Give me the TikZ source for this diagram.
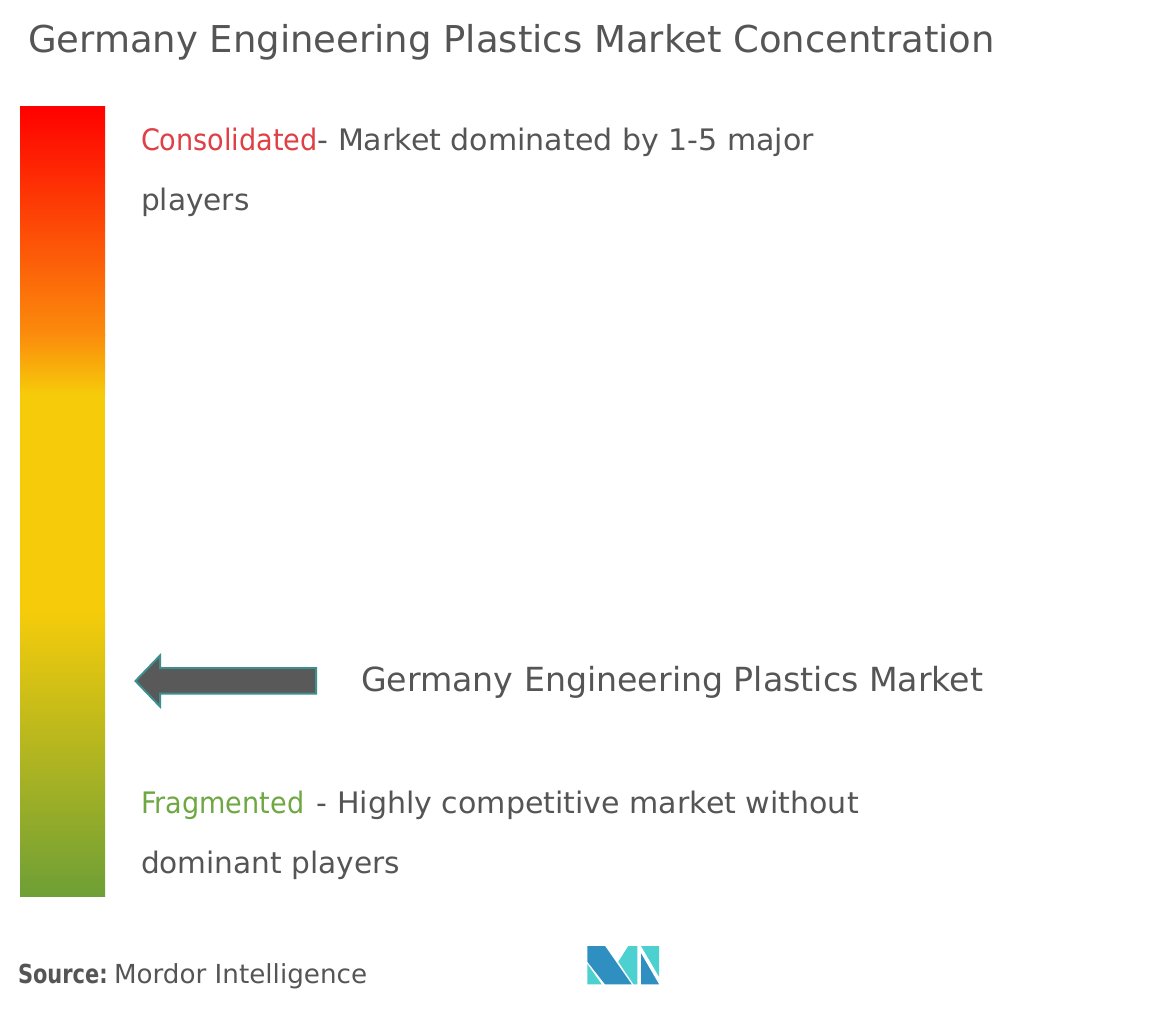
\documentclass[tikz,border=0pt]{standalone}
\usepackage{fontspec}
\setmainfont{DejaVu Sans}
\newfontfamily\txtfont{DejaVu Sans}
\newfontfamily\srcfont[FakeStretch=0.8]{DejaVu Sans}
\newfontfamily\keyfont[FakeStretch=0.915]{DejaVu Sans}
\newfontfamily\restfont[FakeStretch=1.015]{DejaVu Sans}
\definecolor{txtgray}{HTML}{555555}
\definecolor{consred}{HTML}{DE4045}
\definecolor{fraggreen}{HTML}{6FA843}
\definecolor{barred}{HTML}{FF0000}
\definecolor{barorange}{HTML}{FB8C0C}
\definecolor{baryellow}{HTML}{F6CC0A}
\definecolor{bargreen}{HTML}{6E9F36}
\definecolor{arrowfill}{HTML}{595959}
\definecolor{arrowedge}{HTML}{3E8E8E}
\definecolor{logodark}{HTML}{2E8FC0}
\definecolor{logolight}{HTML}{4CD0D0}
\tikzset{
  lbl/.style={anchor=base west,inner sep=0pt,outer sep=0pt,text=txtgray,font=\txtfont\fontsize{29.6}{34}\selectfont},
  ttl/.style={lbl,font=\txtfont\fontsize{37}{42}\selectfont},
  mkt/.style={lbl,font=\txtfont\fontsize{33.2}{38}\selectfont},
  src/.style={lbl,font=\txtfont\fontsize{26.2}{30}\selectfont},
  srcb/.style={lbl,font=\srcfont\bfseries\fontsize{26.2}{30}\selectfont},
}
\begin{document}
\begin{tikzpicture}[x=1pt,y=-1pt]
\useasboundingbox (0,0) rectangle (1172,1010);
\node[ttl] (title) at (28,52) {Germany Engineering Plastics Market Concentration};
% gradient bar
\shade[top color=barred,bottom color=barorange,shading angle=0] (20,106) rectangle (105,335);
\shade[top color=barorange,bottom color=baryellow] (20,334.5) rectangle (105,395);
\fill[baryellow] (20,394.5) rectangle (105,610);
\shade[top color=baryellow,bottom color=bargreen] (20,609.5) rectangle (105,896.6);
\node[lbl] (cons) at (141,150) {{\keyfont\fontsize{29.6}{34}\selectfont\textcolor{consred}{Consolidated}}{\restfont\fontsize{29.6}{34}\selectfont- Market dominated by 1-5 major}};
\node[lbl] (cons2) at (141,210) {players};
\node[mkt] (market) at (361,691) {Germany Engineering Plastics Market};
\node[lbl] (frag) at (141,813) {{\keyfont\fontsize{29.6}{34}\selectfont\textcolor{fraggreen}{Fragmented}}{\restfont\fontsize{29.6}{34}\selectfont\hspace{3pt}\ - Highly competitive market without}};
\node[lbl] (frag2) at (141,873) {dominant players};
\node[srcb] (sourcehead) at (18,983) {Source:};
\node[src] (source) at (114,983) {Mordor Intelligence};
% pointer arrow
\draw[fill=arrowfill,draw=arrowedge,line width=2pt,line join=miter]
  (135.5,681) -- (160,655.5) -- (160,668) -- (316,668) -- (316,693.5) -- (160,693.5) -- (160,706.5) -- cycle;
% logo
\fill[logodark] (587.3,946) -- (605,946) -- (631.7,984.3) -- (605,984.3) -- (587.3,961.7) -- cycle;
\fill[logolight] (587.3,964) -- (601.7,984.3) -- (587.3,984.3) -- cycle;
\fill[logolight] (618.3,961.7) -- (628.3,946) -- (637.3,946) -- (637.3,984.3) -- (633.5,984.3) -- cycle;
\fill[logolight] (641,946) -- (659,946) -- (659,976.7) -- cycle;
\fill[logodark] (641,953.3) -- (659,984.3) -- (641,984.3) -- cycle;
\end{tikzpicture}
\end{document}
